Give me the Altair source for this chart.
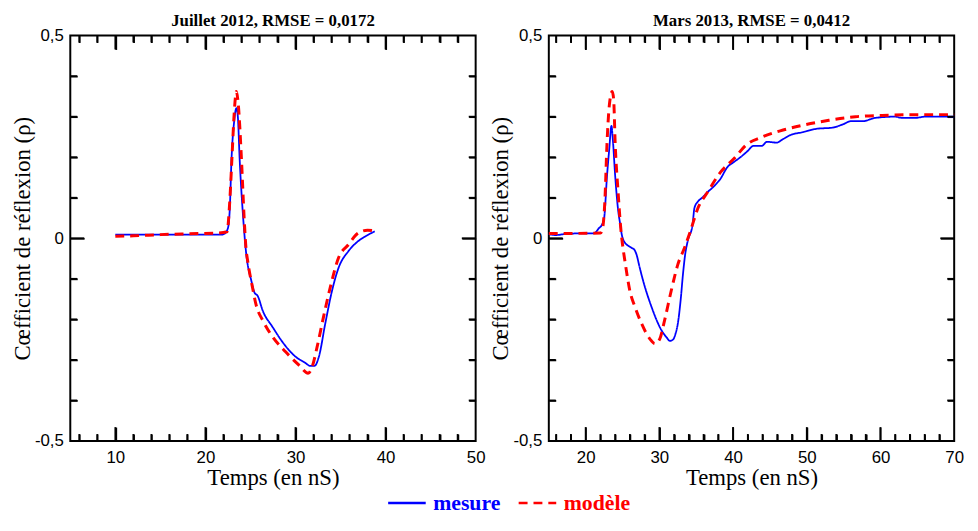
import altair as alt
import pandas as pd

# ---------------- data ----------------
series = ["mesure", "modèle"]
titles = ["Juillet 2012, RMSE = 0,0172", "Mars 2013, RMSE = 0,0412"]

# Panel 1 : Juillet 2012
t1_mesure = [10, 15, 20, 21.8, 22.1, 22.5, 22.7, 22.9, 23.2, 23.44, 23.6, 23.8, 24.17, 24.5,
             25.1, 25.45, 25.8, 26.37, 27.46, 28.56, 30.0, 31.0, 31.67, 32.1, 32.6, 33.3,
             34.05, 34.78, 35.87, 36.8, 37.7, 38.8]
v1_mesure = [0.009, 0.009, 0.009, 0.009, 0.011, 0.025, 0.07, 0.196, 0.29, 0.321, 0.30, 0.196,
             0.057, -0.032, -0.105, -0.134, -0.142, -0.179, -0.219, -0.256, -0.292, -0.306,
             -0.315, -0.315, -0.292, -0.211, -0.13, -0.073, -0.032, -0.01, 0.004, 0.017]
t1_modele = [10, 12, 15, 18, 21.5, 22.4, 22.7, 22.95, 23.2, 23.44, 23.65, 24.0, 24.3, 24.5, 24.7,
             25.2, 25.6, 26.37, 27.46, 28.9, 30.39, 31.4, 31.85, 32.4, 33.1, 33.86, 34.78,
             35.87, 36.97, 38.0, 38.8]
v1_modele = [0.005, 0.006, 0.009, 0.011, 0.013, 0.016, 0.09, 0.2, 0.31, 0.362, 0.33, 0.196,
             0.05, -0.023, -0.057, -0.118, -0.162, -0.203, -0.243, -0.28, -0.313, -0.333,
             -0.317, -0.268, -0.195, -0.121, -0.048, -0.016, 0.013, 0.02, 0.018]

# Panel 2 : Mars 2013
t2_mesure = [15, 16, 17, 19, 20.9, 21.3, 21.8, 22.2, 22.5, 22.9, 23.2, 23.5, 23.7, 24.0, 24.4,
             24.7, 24.9, 25.37, 25.6, 26.27, 26.6, 26.9, 27.3, 27.8, 28.95, 30.29, 31.0, 31.4,
             31.85, 32.2, 32.5, 32.9, 33.2, 33.5, 33.87, 34.5, 34.76, 35.2, 35.8, 36.55, 37.5,
             38.3, 39.2, 40.1, 41.0, 41.9, 42.8, 43.9, 44.6, 45.9, 46.8, 47.7, 49.5, 51.3,
             53.5, 54.9, 56.0, 57.6, 59.3, 62.0, 62.9, 64.7, 66.1, 70]
v2_mesure = [0.010, 0.008, 0.010, 0.012, 0.012, 0.014, 0.025, 0.033, 0.049, 0.155, 0.22, 0.277,
             0.24, 0.155, 0.07, 0.033, 0.009, -0.012, -0.016, -0.024, -0.028, -0.04, -0.07,
             -0.105, -0.170, -0.227, -0.245, -0.253, -0.25, -0.235, -0.211, -0.15, -0.089,
             -0.04, -0.005, 0.033, 0.075, 0.09, 0.10, 0.114, 0.13, 0.147, 0.175, 0.188, 0.2,
             0.214, 0.228, 0.228, 0.238, 0.236, 0.245, 0.254, 0.262, 0.27, 0.273, 0.281, 0.289,
             0.289, 0.297, 0.3, 0.297, 0.297, 0.3, 0.3]
t2_modele = [15, 18, 22.0, 22.2, 22.6, 22.9, 23.2, 23.6, 23.8, 24.0, 24.4, 24.8, 24.9, 25.4,
             26.0, 26.7, 27.6, 28.7, 29.4, 30.06, 30.7, 31.6, 32.5, 33.4, 34.2, 35.2, 36.55,
             38.3, 40.1, 41.9, 43.7, 46.4, 49.5, 53.0, 56.6, 60.2, 65.6, 70]
v2_modele = [0.012, 0.012, 0.013, 0.017, 0.09, 0.236, 0.326, 0.362, 0.342, 0.236, 0.114, 0.017,
             0.0, -0.065, -0.13, -0.17, -0.211, -0.248, -0.26, -0.248, -0.203, -0.13, -0.065,
             -0.024, 0.017, 0.073, 0.114, 0.163, 0.196, 0.232, 0.248, 0.265, 0.279, 0.291,
             0.3, 0.303, 0.305, 0.305]

# axes
x_domains = [[5, 50], [15, 70]]
x_labels = [[10, 20, 30, 40, 50], [20, 30, 40, 50, 60, 70]]
x_major = [[10, 20, 30, 40], [20, 30, 40, 50, 60]]
x_minor = [[6, 8, 12, 14, 16, 18, 22, 24, 26, 28, 32, 34, 36, 38, 42, 44, 46, 48],
           [16, 18, 22, 24, 26, 28, 32, 34, 36, 38, 42, 44, 46, 48, 52, 54, 56, 58,
            62, 64, 66, 68]]
y_labels = [-0.5, 0, 0.5]
y_major = [0]
y_minor = [-0.4, -0.3, -0.2, -0.1, 0.1, 0.2, 0.3, 0.4]

W = 410
H = 410
MAJOR = 14
MINOR = 7

legend = alt.Legend(
    title=None, orient="none", direction="horizontal", legendX=320, legendY=452,
    symbolType="stroke", symbolSize=1444, symbolStrokeWidth=2.5,
    labelFont="Liberation Serif", labelFontSize=22, labelFontWeight="bold",
    labelColor=alt.ExprRef(expr="datum.label == 'mesure' ? '#0000ff' : '#ff0000'"),
    columnPadding=12, labelOffset=6, padding=0,
)


def tick_axis(orient, values, length):
    # inward ticks: axis line moved inside the frame by `length`, its ticks reach the frame
    return alt.Axis(orient=orient, values=values, offset=-length, ticks=True, tickSize=length,
                    tickWidth=1.8, tickColor="black", labels=False, domain=False, grid=False,
                    title=None)


def panel(i, t_m, v_m, t_o, v_o):
    df = pd.concat([
        pd.DataFrame({"t": t_m, "v": v_m, "serie": series[0]}),
        pd.DataFrame({"t": t_o, "v": v_o, "serie": series[1]}),
    ])
    xs = alt.Scale(domain=x_domains[i], nice=False, zero=False)
    ys = alt.Scale(domain=[-0.5, 0.5], nice=False, zero=False)
    xaxis = alt.Axis(orient="bottom", values=x_labels[i], title="Temps (en nS)",
                     labelPadding=9, titlePadding=1)
    yaxis = alt.Axis(orient="left", values=y_labels, title="Cœfficient de réflexion (ρ)",
                     labelExpr="replace('' + datum.value, '.', ',')",
                     labelPadding=7, titlePadding=0)
    lines = alt.Chart(df).mark_line(interpolate="monotone").encode(
        x=alt.X("t:Q", scale=xs, axis=xaxis),
        y=alt.Y("v:Q", scale=ys, axis=yaxis),
        color=alt.Color("serie:N", scale=alt.Scale(domain=series, range=["#0000ff", "#ff0000"]),
                        legend=legend),
        strokeDash=alt.StrokeDash("serie:N", scale=alt.Scale(domain=series, range=[[1, 0], [9, 6]]),
                                  legend=legend),
        strokeWidth=alt.condition(alt.datum.serie == "mesure", alt.value(1.8), alt.value(3)),
    )

    layers = [lines]

    # inward tick marks, drawn by axes
    specs = [
        ("bottom", x_major[i], "left", y_major, MAJOR),
        ("bottom", x_minor[i], "left", y_minor, MINOR),
        ("top", x_major[i], "right", y_major, MAJOR),
        ("top", x_minor[i], "right", y_minor, MINOR),
    ]
    for xo, xv, yo, yv, ln in specs:
        layers.append(
            alt.Chart(df).mark_point(opacity=0).encode(
                x=alt.X("t:Q", scale=xs, axis=tick_axis(xo, xv, ln)),
                y=alt.Y("v:Q", scale=ys, axis=tick_axis(yo, yv, ln)),
            )
        )

    # the same tick marks, drawn by rules through the scales
    def xr(vals, top, length):
        d = pd.DataFrame({"tk": vals})
        if top:
            yy, yy2 = 0, length
        else:
            yy, yy2 = H, H - length
        return alt.Chart(d).mark_rule(color="black", strokeWidth=1.8).encode(
            x=alt.X("tk:Q", scale=xs, axis=None), y=alt.value(yy), y2=alt.value(yy2))

    def yr(vals, right, length):
        d = pd.DataFrame({"vk": vals})
        if right:
            xx, xx2 = W, W - length
        else:
            xx, xx2 = 0, length
        return alt.Chart(d).mark_rule(color="black", strokeWidth=1.8).encode(
            y=alt.Y("vk:Q", scale=ys, axis=None), x=alt.value(xx), x2=alt.value(xx2))

    for top in (False, True):
        layers.append(xr(x_major[i], top, MAJOR))
        layers.append(xr(x_minor[i], top, MINOR))
    for right in (False, True):
        layers.append(yr(y_major, right, MAJOR))
        layers.append(yr(y_minor, right, MINOR))

    return alt.layer(*layers).resolve_axis(x="independent", y="independent").properties(
        width=W, height=H,
        title=alt.TitleParams(titles[i], font="Liberation Serif", fontSize=17, fontWeight="bold",
                              frame="group", anchor="middle", offset=-3, color="black"),
    )


p1 = panel(0, t1_mesure, v1_mesure, t1_modele, v1_modele)
p2 = panel(1, t2_mesure, v2_mesure, t2_modele, v2_modele)

chart = alt.hconcat(p1, p2, spacing=2).properties(
    padding={"left": 2, "top": 0, "right": 5, "bottom": 0}
).configure_view(
    stroke="black", strokeWidth=2
).configure_axis(
    domain=False, ticks=False, tickSize=0, grid=False, labelFlush=False,
    labelFont="Liberation Sans", labelFontSize=17, labelColor="black",
    titleFont="Liberation Serif", titleFontSize=23, titleFontWeight="normal", titleColor="black",
)

chart.save("out.html", embed_options={"renderer": "svg", "actions": False})
